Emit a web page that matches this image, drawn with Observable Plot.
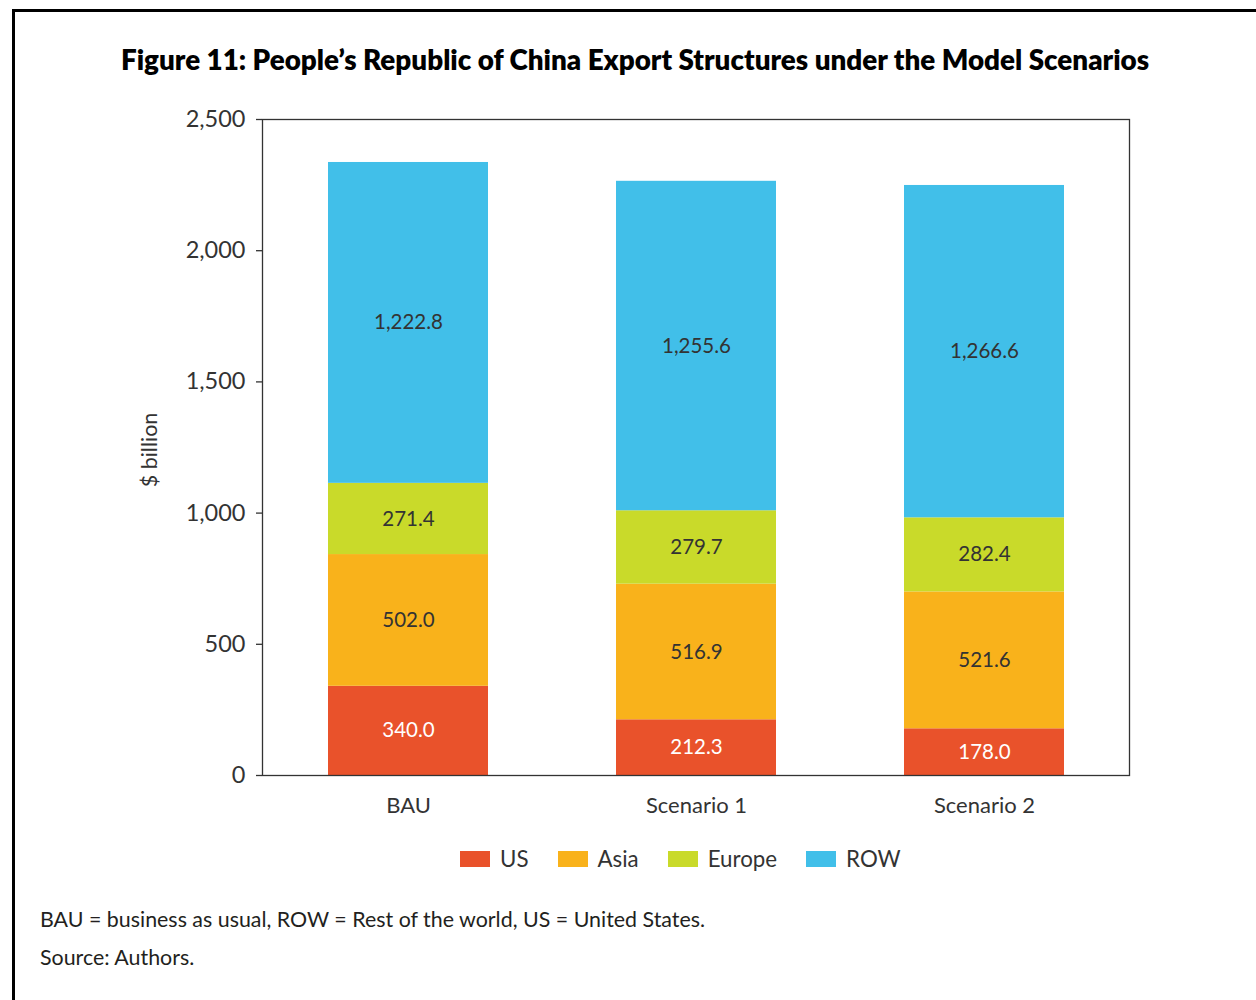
<!DOCTYPE html>
<html>
<head>
<meta charset="utf-8">
<script src="https://cdn.jsdelivr.net/npm/d3@7"></script>
<script src="https://cdn.jsdelivr.net/npm/@observablehq/plot@0.6"></script>
<style>
  html, body { margin: 0; padding: 0; background: #fff; }
  body { width: 1256px; height: 1000px; position: relative; overflow: hidden; font-family: Lato, "Open Sans", sans-serif; color: #231f20; }
  #frame { position: absolute; left: 12px; top: 9px; width: 1400px; height: 1200px; border-top: 3px solid #000; border-left: 3px solid #000; }
  #title { position: absolute; left: 0; width: 1270px; top: 43px; text-align: center; font-weight: 800; font-size: 27.8px; color: #000; }
  #chart { position: absolute; left: 0; top: 100px; }
  #legend { position: absolute; left: 460px; top: 845px; display: flex; align-items: center; font-size: 22.3px; color: #333; }
  .item { display: flex; align-items: center; margin-right: 29px; }
  .sw { width: 30px; height: 16px; margin-right: 10px; }
  .note { position: absolute; left: 40px; font-size: 21.4px; color: #231f20; }
</style>
</head>
<body>
<div id="frame"></div>
<div id="title">Figure 11: People’s Republic of China Export Structures under the Model Scenarios</div>
<div id="chart"></div>
<div id="legend"></div>
<div class="note" style="top:906px">BAU = business as usual, ROW = Rest of the world, US = United States.</div>
<div class="note" style="top:944px">Source: Authors.</div>
<script>
const scenarios = ["BAU", "Scenario 1", "Scenario 2"];
const regions = ["US", "Asia", "Europe", "ROW"];
const usValues = [340.0, 212.3, 178.0];
const asiaValues = [502.0, 516.9, 521.6];
const europeValues = [271.4, 279.7, 282.4];
const rowValues = [1222.8, 1255.6, 1266.6];
const colors = ["#E9522B", "#F9B21B", "#C9DA2A", "#41BFE9"];
const yTicks = [0, 500, 1000, 1500, 2000, 2500];

const series = [usValues, asiaValues, europeValues, rowValues];
const data = [];
scenarios.forEach((s, i) => {
  let base = 0;
  regions.forEach((r, j) => {
    const v = series[j][i];
    data.push({scenario: s, region: r, value: v, y1: base, y2: base + v, mid: base + v / 2});
    base += v;
  });
});

const fmt = d3.format(",.1f");

const chart = Plot.plot({
  width: 1256,
  height: 725,
  marginLeft: 262,
  marginRight: 127,
  marginTop: 19,
  marginBottom: 50,
  style: {fontFamily: "Lato, 'Open Sans', sans-serif", color: "#231f20", background: "transparent"},
  x: {domain: scenarios, paddingInner: 0.446, paddingOuter: 0.228, label: null},
  y: {domain: [0, 2500], label: null},
  color: {domain: regions, range: colors},
  marks: [
    Plot.barY(data, {x: "scenario", y1: "y1", y2: "y2", fill: "region"}),
    Plot.frame({stroke: "#333", strokeWidth: 1.3}),
    Plot.axisY({ticks: yTicks, tickFormat: d3.format(","), tickSize: 6, tickPadding: 11, fontSize: 23.5, stroke: "#333", strokeWidth: 1.3, fill: "#333"}),
    Plot.axisX({tickSize: 0, tickPadding: 22, fontSize: 22, fill: "#333"}),
    Plot.text(data, {x: "scenario", y: "mid", text: d => fmt(d.value), fill: d => d.region === "US" ? "#fff" : "#333", fontSize: 20.5})
  ]
});
document.getElementById("chart").appendChild(chart);

// y axis title
const svg = d3.select(chart);
svg.append("text")
  .attr("transform", "translate(157,350) rotate(-90)")
  .attr("text-anchor", "middle")
  .attr("font-size", 21.5)
  .attr("fill", "#333")
  .text("$ billion");

const legend = d3.select("#legend");
regions.forEach((r, i) => {
  const it = legend.append("div").attr("class", "item");
  it.append("div").attr("class", "sw").style("background", colors[i]);
  it.append("span").text(r);
});
</script>
</body>
</html>
